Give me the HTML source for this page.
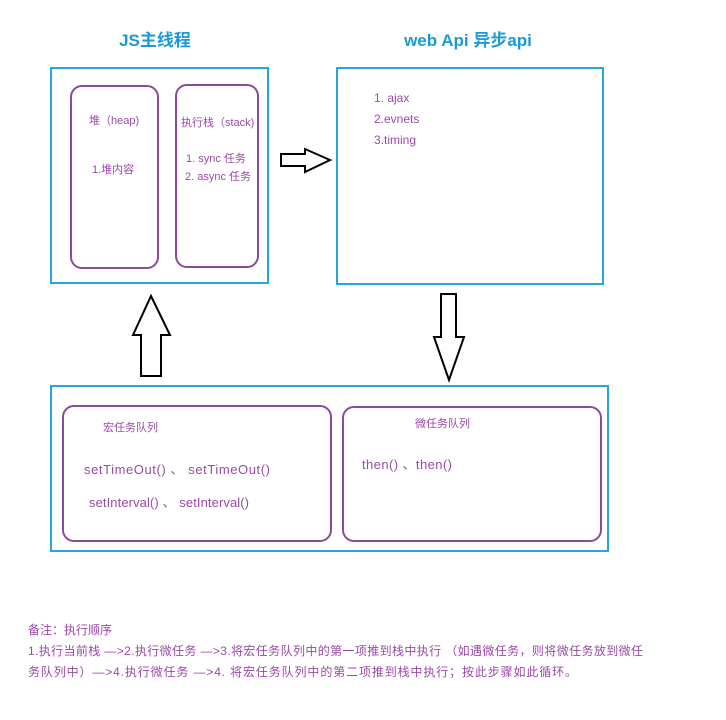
<!DOCTYPE html>
<html><head><meta charset="utf-8"><style>
body{margin:0;background:#fff;}
svg{display:block;}
text{font-family:"Liberation Sans","Noto Sans CJK SC",sans-serif;}
</style></head><body>
<svg width="726" height="720" xmlns="http://www.w3.org/2000/svg">
<text x="155" y="46" text-anchor="middle" font-size="17" font-weight="bold" fill="#1a9ad6">JS主线程</text>
<text x="468" y="46" text-anchor="middle" font-size="17" font-weight="bold" fill="#1a9ad6">web Api 异步api</text>
<g fill="none" stroke="#2aa4dc" stroke-width="2">
<rect x="51" y="68" width="217" height="215"/>
<rect x="337" y="68" width="266" height="216"/>
<rect x="51" y="386" width="557" height="165"/>
</g>
<g fill="none" stroke="#8a4a9a" stroke-width="2">
<rect x="71" y="86" width="87" height="182" rx="11"/>
<rect x="176" y="85" width="82" height="182" rx="11"/>
<rect x="63" y="406" width="268" height="135" rx="11"/>
<rect x="343" y="407" width="258" height="134" rx="11"/>
</g>
<g fill="#9a4aa6" font-size="11">
<text x="89" y="124">堆（heap)</text>
<text x="92" y="173">1.堆内容</text>
<text x="181" y="126">执行栈（stack)</text>
<text x="186" y="162">1. sync 任务</text>
<text x="185" y="180">2. async 任务</text>
<text x="374" y="102" font-size="12">1. ajax</text>
<text x="374" y="123" font-size="12">2.evnets</text>
<text x="374" y="144" font-size="12">3.timing</text>
<text x="103" y="431">宏任务队列</text>
<text x="84" y="474" font-size="13" textLength="186">setTimeOut() 、 setTimeOut()</text>
<text x="89" y="507" font-size="13" textLength="160">setInterval() 、 setInterval()</text>
<text x="415" y="427">微任务队列</text>
<text x="362" y="469" font-size="13" textLength="90">then() 、then()</text>
<text x="28" y="634" font-size="12">备注：执行顺序</text>
<text x="28" y="655" font-size="12" textLength="615">1.执行当前栈 —&gt;2.执行微任务 —&gt;3.将宏任务队列中的第一项推到栈中执行 （如遇微任务，则将微任务放到微任</text>
<text x="28" y="676" font-size="12" textLength="549">务队列中）—&gt;4.执行微任务 —&gt;4. 将宏任务队列中的第二项推到栈中执行；按此步骤如此循环。</text>
</g>
<g fill="#fff" stroke="#000" stroke-width="2" stroke-linejoin="miter">
<polygon points="281,154 305,154 305,149 330,160 305,172 305,166 281,166"/>
<polygon points="441,294 456,294 456,337 464,337 449,380 434,337 441,337"/>
<polygon points="151,296 170,335 161,335 161,376 141,376 141,335 133,335"/>
</g>
</svg>
</body></html>
